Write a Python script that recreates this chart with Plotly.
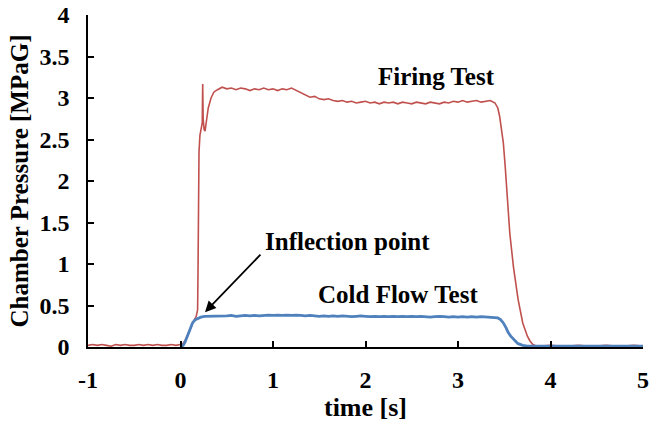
import plotly.graph_objects as go

# Firing test (red)
t_fire = [-1.00, -0.95, -0.90, -0.85, -0.80, -0.75, -0.70, -0.65, -0.60, -0.55, -0.50,
          -0.45, -0.40, -0.35, -0.30, -0.25, -0.20, -0.15, -0.10, -0.05, 0.00,
          0.02, 0.05, 0.08, 0.11, 0.14, 0.17, 0.185, 0.19, 0.195, 0.20, 0.21, 0.225,
          0.235, 0.24, 0.245, 0.255, 0.265, 0.28, 0.30, 0.33, 0.36, 0.40,
          0.45, 0.50, 0.55, 0.60, 0.65, 0.70, 0.75, 0.80, 0.85, 0.90, 0.95,
          1.00, 1.05, 1.10, 1.15, 1.20, 1.25, 1.30, 1.35, 1.40, 1.45, 1.50,
          1.55, 1.60, 1.65, 1.70, 1.75, 1.80, 1.85, 1.90, 1.95, 2.00, 2.05,
          2.10, 2.15, 2.20, 2.25, 2.30, 2.35, 2.40, 2.45, 2.50, 2.55, 2.60,
          2.65, 2.70, 2.75, 2.80, 2.85, 2.90, 2.95, 3.00, 3.05, 3.10, 3.15,
          3.20, 3.25, 3.30, 3.35, 3.40,
          3.43, 3.45, 3.47, 3.49, 3.51, 3.53, 3.56, 3.60, 3.65, 3.70, 3.75,
          3.78, 3.81, 3.85, 3.90, 4.00, 4.10, 4.20, 4.30, 4.40, 4.50, 4.60,
          4.70, 4.80, 4.90, 5.00]
p_fire = [0.02, 0.03, 0.02, 0.03, 0.02, 0.01, 0.03, 0.02, 0.03, 0.02, 0.02,
          0.03, 0.02, 0.03, 0.02, 0.03, 0.02, 0.02, 0.03, 0.02, 0.03,
          0.03, 0.08, 0.16, 0.24, 0.31, 0.37, 0.45, 1.00, 1.80, 2.35, 2.55, 2.62,
          2.70, 3.17, 2.75, 2.62, 2.60, 2.72, 2.88, 3.00, 3.07, 3.10,
          3.13, 3.11, 3.12, 3.10, 3.12, 3.11, 3.09, 3.11, 3.10, 3.12, 3.10,
          3.11, 3.09, 3.11, 3.10, 3.12, 3.09, 3.06, 3.03, 3.01, 3.02, 2.99,
          2.98, 2.99, 2.97, 2.96, 2.97, 2.95, 2.96, 2.94, 2.95, 2.96, 2.94,
          2.95, 2.93, 2.95, 2.94, 2.95, 2.93, 2.95, 2.94, 2.93, 2.95, 2.94,
          2.93, 2.95, 2.94, 2.93, 2.95, 2.94, 2.96, 2.95, 2.97, 2.95, 2.96,
          2.97, 2.95, 2.96, 2.97, 2.94,
          2.88, 2.78, 2.62, 2.46, 2.18, 1.86, 1.37, 0.96, 0.57, 0.29, 0.13,
          0.07, 0.03, 0.01, 0.01, 0.02, 0.01, 0.01, 0.02, 0.01, 0.01, 0.02,
          0.01, 0.01, 0.02, 0.01]

# Cold flow test (blue)
t_cold = [0.00, 0.03, 0.05, 0.08, 0.10, 0.13, 0.16, 0.19, 0.22, 0.26, 0.30,
          0.35, 0.40, 0.45, 0.50, 0.55, 0.60, 0.65, 0.70, 0.75, 0.80, 0.85,
          0.90, 0.95, 1.00, 1.05, 1.10, 1.15, 1.20, 1.25, 1.30, 1.35, 1.40,
          1.45, 1.50, 1.55, 1.60, 1.65, 1.70, 1.75, 1.80, 1.85, 1.90, 1.95,
          2.00, 2.05, 2.10, 2.15, 2.20, 2.25, 2.30, 2.35, 2.40, 2.45, 2.50,
          2.55, 2.60, 2.65, 2.70, 2.75, 2.80, 2.85, 2.90, 2.95, 3.00, 3.05,
          3.10, 3.15, 3.20, 3.25, 3.30, 3.35, 3.40,
          3.43, 3.46, 3.49, 3.52, 3.54, 3.57, 3.60, 3.63, 3.65, 3.70, 3.75,
          3.80, 3.90, 4.00, 4.10, 4.20, 4.30, 4.40, 4.50, 4.60, 4.70, 4.80,
          4.90, 5.00]
p_cold = [0.00, 0.02, 0.06, 0.15, 0.22, 0.29, 0.33, 0.35, 0.36, 0.37, 0.37,
          0.37, 0.375, 0.37, 0.375, 0.38, 0.37, 0.375, 0.38, 0.375, 0.38, 0.375,
          0.38, 0.385, 0.38, 0.385, 0.38, 0.385, 0.38, 0.385, 0.38, 0.375, 0.38,
          0.375, 0.37, 0.375, 0.37, 0.375, 0.37, 0.375, 0.37, 0.365, 0.37, 0.375,
          0.37, 0.365, 0.37, 0.365, 0.37, 0.365, 0.37, 0.365, 0.37, 0.365, 0.37,
          0.365, 0.37, 0.365, 0.36, 0.365, 0.37, 0.365, 0.36, 0.365, 0.36, 0.365,
          0.36, 0.365, 0.36, 0.365, 0.36, 0.355, 0.355,
          0.35, 0.33, 0.29, 0.23, 0.18, 0.13, 0.09, 0.06, 0.04, 0.02, 0.01,
          0.01, 0.015, 0.01, 0.015, 0.01, 0.015, 0.01, 0.015, 0.01, 0.015, 0.01,
          0.015, 0.01]

x_ticks = [-1, 0, 1, 2, 3, 4, 5]
y_ticks = [0, 0.5, 1, 1.5, 2, 2.5, 3, 3.5, 4]
y_tick_labels = ["0", "0.5", "1", "1.5", "2", "2.5", "3", "3.5", "4"]

FONT = "Liberation Serif"
RED = "#C0504D"
BLUE = "#4F81BD"

fig = go.Figure()
fig.add_trace(go.Scatter(x=t_fire, y=p_fire, mode="lines",
                         line=dict(color=RED, width=1.6), name="Firing Test"))
fig.add_trace(go.Scatter(x=t_cold, y=p_cold, mode="lines",
                         line=dict(color=BLUE, width=2.8), name="Cold Flow Test"))

ann_font = dict(family=FONT, size=25, color="black")
fig.add_annotation(x=2.77, y=3.265, text="<b>Firing Test</b>", showarrow=False, font=ann_font)
fig.add_annotation(x=1.80, y=1.277, text="<b>Inflection point</b>", showarrow=False, font=ann_font)
fig.add_annotation(x=2.35, y=0.627, text="<b>Cold Flow Test</b>", showarrow=False, font=ann_font)
fig.add_annotation(x=0.265, y=0.42, ax=0.88, ay=1.13, xref="x", yref="y", axref="x", ayref="y",
                   text="", showarrow=True, arrowhead=2, arrowsize=1.2, arrowwidth=1.8,
                   arrowcolor="black")

tick_font = dict(family=FONT, size=24, color="black")
fig.update_layout(
    width=650, height=425,
    margin=dict(l=88, r=7, t=15, b=78),
    paper_bgcolor="white", plot_bgcolor="white",
    showlegend=False,
    font=dict(family=FONT, color="black"),
    xaxis=dict(range=[-1, 5], tickvals=x_ticks, ticktext=["<b>%d</b>" % v for v in x_ticks],
               ticks="inside", ticklen=6, tickwidth=1.5,
               tickcolor="black", showline=True, linecolor="black", linewidth=1.5,
               showgrid=False, zeroline=False, tickfont=tick_font, automargin=False,
               ticklabelstandoff=10,
               title=dict(text="<b>time [s]</b>", font=dict(family=FONT, size=26), standoff=4)),
    yaxis=dict(range=[0, 4], tickvals=y_ticks, ticktext=["<b>%s</b>" % s for s in y_tick_labels],
               ticks="inside", ticklen=6, tickwidth=1.5,
               tickcolor="black", showline=True, linecolor="black", linewidth=1.5,
               showgrid=False, zeroline=False, tickfont=tick_font, automargin=False,
               ticklabelstandoff=12,
               title=dict(text="<b>Chamber Pressure [MPaG]</b>", font=dict(family=FONT, size=25),
                          standoff=4)),
)
fig.write_html("out.html")
